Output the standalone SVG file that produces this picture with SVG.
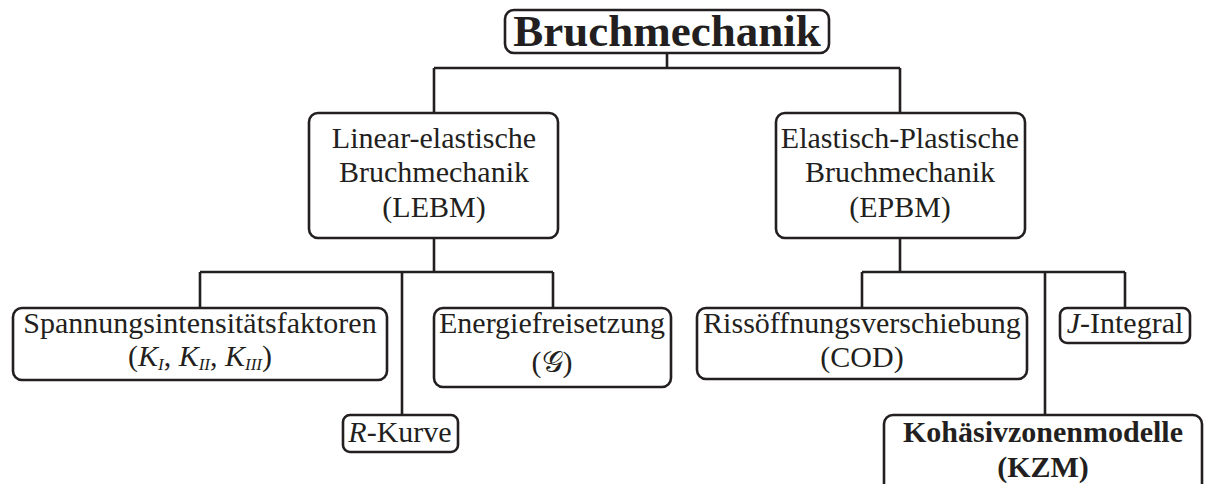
<svg xmlns="http://www.w3.org/2000/svg" width="1205" height="484" viewBox="0 0 1205 484">
<style>
.box{fill:#fff;stroke:#231f20;stroke-width:2.6}
.con{fill:none;stroke:#231f20;stroke-width:2.6}
text{font-family:"Liberation Serif","Times New Roman",serif;font-size:30px;fill:#231f20;text-anchor:middle}
.b{font-weight:bold}
.i{font-style:italic}
.sub{font-size:17px;font-style:italic}
</style>
<rect width="1205" height="484" fill="#fff"/>
<g id="connectors">
<path class="con" d="M667 53V68M434 68H900M434 68V113M900 68V113"/>
<path class="con" d="M434 238V272M200 272H553M200 272V308M402 272V415M553 272V308"/>
<path class="con" d="M900 238V272M862 272H1125M862 272V308M1045 272V415M1125 272V308"/>
</g>
<g id="root">
<rect class="box" x="505" y="10" width="324" height="43" rx="9"/>
<text class="b" x="667" y="46" style="font-size:45px">Bruchmechanik</text>
</g>
<g id="lebm">
<rect class="box" x="309" y="113" width="249" height="125" rx="9"/>
<text x="434" y="148">Linear-elastische</text>
<text x="434" y="182">Bruchmechanik</text>
<text x="434" y="217">(LEBM)</text>
</g>
<g id="epbm">
<rect class="box" x="776" y="113" width="249" height="125" rx="9"/>
<text x="900" y="148">Elastisch-Plastische</text>
<text x="900" y="182">Bruchmechanik</text>
<text x="900" y="217">(EPBM)</text>
</g>
<g id="sif">
<rect class="box" x="13" y="308" width="374" height="72" rx="9"/>
<text x="200" y="333">Spannungsintensitätsfaktoren</text>
<text x="200" y="366">(<tspan class="i">K</tspan><tspan class="sub" dy="4">I</tspan><tspan dy="-4">, </tspan><tspan class="i">K</tspan><tspan class="sub" dy="4">II</tspan><tspan dy="-4">, </tspan><tspan class="i">K</tspan><tspan class="sub" dy="4">III</tspan><tspan dy="-4">)</tspan></text>
</g>
<g id="rkurve">
<rect class="box" x="343" y="415" width="115" height="37" rx="7"/>
<text x="400" y="442"><tspan class="i">R</tspan>-Kurve</text>
</g>
<g id="energie">
<rect class="box" x="434" y="308" width="237" height="79" rx="9"/>
<text x="552" y="333">Energiefreisetzung</text>
<text x="552" y="372">(<tspan style="font-family:'DejaVu Serif','Liberation Serif',serif">𝒢</tspan>)</text>
</g>
<g id="cod">
<rect class="box" x="697" y="308" width="330" height="71" rx="9"/>
<text x="862" y="333">Rissöffnungsverschiebung</text>
<text x="862" y="367">(COD)</text>
</g>
<g id="jint">
<rect class="box" x="1060" y="308" width="130" height="35" rx="7"/>
<text x="1125" y="333"><tspan class="i">J</tspan>-Integral</text>
</g>
<g id="kzm">
<rect class="box" x="884" y="415" width="318" height="90" rx="9"/>
<text class="b" x="1043" y="442">Kohäsivzonenmodelle</text>
<text class="b" x="1043" y="477">(KZM)</text>
</g>
</svg>
